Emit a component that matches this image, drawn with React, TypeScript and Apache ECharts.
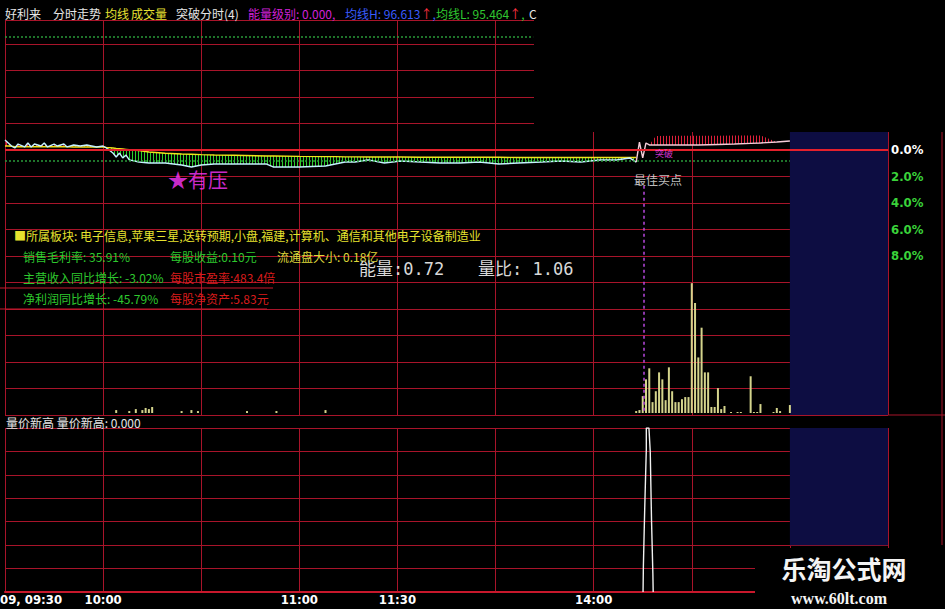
import React, { useEffect, useRef } from 'react';
import * as echarts from 'echarts';

// ---------- data ----------
// x: minutes since 09:30 (0..240 trading, 240..270 blank extension), y: % change
const priceMinutes = [0,1,2,3,4,6,7,8,9,11,12,13,15,16,18,19,21,23,25,28,30,31,33,34,35,36,37,38,41,44,49,54,57,60,64,70,80,82,90,98,101,104,107,111,116,121,127,133,139,145,151,157,164,170,176,182,187,191,193];
const pricePct = [0.75,0.53,0.30,0.15,0.45,0.23,0.53,0.23,0.45,0.30,0.53,0.23,0.45,0.30,0.45,0.23,0.38,0.30,0.38,0.23,0.30,0.15,-0.23,-0.53,-0.23,-0.60,-0.38,-0.75,-0.91,-0.98,-0.98,-1.13,-1.28,-1.13,-1.06,-1.06,-1.06,-1.28,-1.28,-1.21,-1.06,-0.91,-0.91,-0.75,-0.98,-0.83,-0.91,-0.98,-0.98,-0.91,-1.06,-0.98,-0.91,-0.83,-0.91,-0.75,-0.75,-0.60,-0.91];
const avgPct = [0.30,0.30,0.28,0.25,0.25,0.25,0.25,0.25,0.25,0.25,0.25,0.25,0.25,0.25,0.25,0.25,0.23,0.23,0.23,0.23,0.23,0.20,0.15,0.12,0.10,0.08,0.05,0.02,-0.05,-0.15,-0.25,-0.30,-0.32,-0.35,-0.38,-0.40,-0.45,-0.45,-0.48,-0.50,-0.50,-0.52,-0.52,-0.53,-0.53,-0.53,-0.55,-0.55,-0.55,-0.55,-0.55,-0.57,-0.57,-0.57,-0.57,-0.57,-0.57,-0.57,-0.57];

const breakMinutes = [193,194,195,196,197,199,205,212,218,223,228,231,236,240];
const breakPct = [-0.91,0.60,-0.60,0.53,0.38,0.38,0.38,0.38,0.42,0.45,0.50,0.53,0.60,0.68];
const breakHighPct = [-0.91,0.60,-0.60,0.53,0.38,1.05,1.08,1.08,1.08,1.10,1.10,1.10,0.60,0.68];

const volMinutes = [34,38,40,42,43,44,45,54,57,59,74,83,98,193,194,195,196,197,198,199,200,201,202,203,204,205,206,207,208,209,210,211,212,213,214,215,216,217,218,219,220,222,224,225,228,229,230,231,235,236,237,240];
const volValues = [180,120,240,180,310,240,370,120,180,120,120,120,180,120,180,1040,2070,2750,670,1340,2500,2070,790,2810,1340,670,670,850,980,980,7990,6770,3420,5250,2500,2500,370,370,1530,240,430,60,60,60,2260,60,60,550,60,310,120,490];

const signalMinutes = [195.1,195.2,195.6,196.1,196.1,196.9,197.3,197.7,198.1,198.2];
const signalValues = [0,1.1,3.5,6.1,7,7,6,3,0.8,0];

const noteMinutes = [59, 199.7, 201.5];
const notePct = [-2.2, -2.26, -0.3];
const noteTexts = ['★有压', '最佳买点', '突破'];
const noteColors = ['#ff36ff', '#f0f0f0', '#ff40ff'];
const noteSizes = [20, 12, 9];

const pctTicks = [0, -2, -4, -6, -8];
const timeTickMinutes = [30, 90, 120, 180];
const timeTickLabels = ['10:00', '11:00', '11:30', '14:00'];
const firstTimeLabel = '09, 09:30';

const energyLevel = '0.000';
const maH = '96.613';
const maL = '95.464';
const energy = '0.72';
const volRatio = '1.06';
const signalNow = '0.000';

const GRID = '#a8142a';
const NARROW = '"Liberation Sans Narrow", "DejaVu Sans Condensed", Arial, sans-serif';
const CJK = '"Noto Sans CJK SC", "Noto Sans", sans-serif';
const MONO = '"DejaVu Sans Mono", "Noto Sans CJK SC", monospace';

function stripe(color: string, w: number) {
  const c = document.createElement('canvas');
  c.width = w;
  c.height = 4;
  const g = c.getContext('2d')!;
  g.fillStyle = color;
  g.fillRect(0, 0, 1, 4);
  return c;
}

function txt(text: string, x: number, y: number, color: string, size = 12, family = CJK) {
  return {
    type: 'text',
    x,
    y,
    z: 5,
    style: { text, fill: color, font: `${size}px ${family}`, verticalAlign: 'middle' },
  };
}

function band(xs: number[], upper: number[], lower: number[], pattern: any) {
  return {
    type: 'custom',
    xAxisIndex: 0,
    yAxisIndex: 0,
    z: 2,
    silent: true,
    data: [[xs[0], lower[0]]],
    renderItem: (_p: any, api: any) => {
      const pts: number[][] = [];
      for (let i = 0; i < xs.length; i++) pts.push(api.coord([xs[i], upper[i]]));
      for (let i = xs.length - 1; i >= 0; i--) pts.push(api.coord([xs[i], lower[i]]));
      return { type: 'polygon', shape: { points: pts }, style: { fill: pattern, stroke: null } };
    },
  };
}

function buildOption() {
  const greenStripe = { image: stripe('#2ccf2c', 3), repeat: 'repeat' };
  const redStripe = { image: stripe('#e0203a', 3), repeat: 'repeat' };
  const pairs = (xs: number[], ys: number[]) => xs.map((m, i) => [m, ys[i]]);
  const lowEdge = pricePct.map((p, i) => Math.min(p, avgPct[i]));
  const highEdge = pricePct.map((p, i) => Math.max(p, avgPct[i]));
  const hidden = { lineStyle: { opacity: 0, width: 0 }, symbol: 'none' };

  return {
    animation: false,
    backgroundColor: '#000',
    grid: [
      { left: 5, right: 57, top: 20, height: 395 },
      { left: 5, right: 57, top: 283, height: 130 },
      { left: 5, right: 57, top: 428, height: 164 },
    ],
    xAxis: [
      { gridIndex: 0, type: 'value', min: 0, max: 270, interval: 30, axisLine: { show: false }, axisTick: { show: false }, axisLabel: { show: false }, splitLine: { show: true, lineStyle: { color: GRID, width: 1 } } },
      { gridIndex: 1, type: 'value', min: 0, max: 270, show: false },
      {
        gridIndex: 2, type: 'value', min: 0, max: 270, interval: 30,
        axisLine: { show: true, lineStyle: { color: '#c8182c', width: 2 } },
        axisTick: { show: false },
        axisLabel: {
          color: '#ffffff', fontSize: 13, fontWeight: 'bold', fontFamily: NARROW, margin: 1,
          formatter: (v: number) => { const k = timeTickMinutes.indexOf(v); return k >= 0 ? timeTickLabels[k] : ''; },
        },
        splitLine: { show: true, lineStyle: { color: GRID, width: 1 } },
      },
    ],
    yAxis: [
      {
        gridIndex: 0, type: 'value', min: -20, max: 9.811, interval: 2, position: 'right',
        axisLine: { show: false }, axisTick: { show: false },
        splitLine: { show: true, lineStyle: { color: GRID, width: 1 } },
        axisLabel: {
          margin: 3, align: 'left',
          formatter: (v: number) => pctTicks.indexOf(v) >= 0 ? `{${v === 0 ? 'w' : 'g'}|${Math.abs(v).toFixed(1)}%}` : '',
          rich: {
            w: { color: '#ffffff', fontSize: 13, fontWeight: 'bold', fontFamily: NARROW },
            g: { color: '#3ad23a', fontSize: 13, fontWeight: 'bold', fontFamily: NARROW },
          },
        },
      },
      { gridIndex: 1, type: 'value', min: 0, max: 8000, show: false },
      { gridIndex: 2, type: 'value', min: 0, max: 7, interval: 1, axisLine: { show: false }, axisTick: { show: false }, axisLabel: { show: false }, splitLine: { show: true, lineStyle: { color: GRID, width: 1 } } },
    ],
    series: [
      // blue extension zone (below grid lines)
      {
        type: 'line', xAxisIndex: 0, yAxisIndex: 0, z: -1, data: [[240, -20]], ...hidden,
        markArea: { silent: true, itemStyle: { color: '#0d0d42' }, data: [[{ coord: [240, 1.36] }, { coord: [270, -20] }]] },
      },
      {
        type: 'line', xAxisIndex: 2, yAxisIndex: 2, z: -1, data: [[240, 0]], ...hidden,
        markArea: { silent: true, itemStyle: { color: '#0d0d42' }, data: [[{ coord: [240, 7] }, { coord: [270, 2] }]] },
      },
      // striped bands between price and average
      band(priceMinutes, avgPct, lowEdge, greenStripe),
      band(priceMinutes, highEdge, avgPct, redStripe),
      band(breakMinutes, breakHighPct, breakPct, redStripe),
      // average line + reference lines
      {
        type: 'line', name: '均线', xAxisIndex: 0, yAxisIndex: 0, data: pairs(priceMinutes, avgPct), symbol: 'none',
        lineStyle: { color: '#f2e21c', width: 1.4 }, z: 3,
        markLine: {
          silent: true, symbol: 'none', label: { show: false },
          data: [
            [{ coord: [0, 0], lineStyle: { color: '#e4202c', width: 2, type: 'solid' } }, { coord: [270, 0] }],
            [{ coord: [0, 8.53], lineStyle: { color: '#2a9a3a', width: 1.5, type: [2, 2] } }, { coord: [161.5, 8.53] }],
            [{ coord: [0, -0.83], lineStyle: { color: '#2a9a3a', width: 1.5, type: [2, 2] } }, { coord: [240, -0.83] }],
          ],
        },
      },
      {
        type: 'line', name: '分时', xAxisIndex: 0, yAxisIndex: 0, data: pairs(priceMinutes, pricePct), symbol: 'none',
        lineStyle: { color: '#c4f2ff', width: 1.4 }, z: 4,
        markLine: {
          silent: true, symbol: 'none', label: { show: false },
          lineStyle: { color: '#b848e0', width: 1.5, type: [3, 3] },
          data: [[{ coord: [195.4, -2.7] }, { coord: [195.4, -19.9] }]],
        },
      },
      {
        type: 'line', name: '突破', xAxisIndex: 0, yAxisIndex: 0, data: pairs(breakMinutes, breakPct), symbol: 'none',
        lineStyle: { color: '#f4ccd8', width: 1.4 }, z: 4,
      },
      {
        type: 'scatter', xAxisIndex: 0, yAxisIndex: 0, symbolSize: 1, itemStyle: { color: 'rgba(0,0,0,0)' }, z: 6,
        label: { show: true, position: 'inside' },
        data: noteMinutes.map((m, i) => ({
          value: [m, notePct[i]],
          label: { formatter: noteTexts[i], color: noteColors[i], fontSize: noteSizes[i], fontFamily: CJK },
        })),
      },
      // volume
      {
        type: 'bar', xAxisIndex: 1, yAxisIndex: 1, barWidth: 2, data: pairs(volMinutes, volValues),
        itemStyle: { color: '#d4d48c' }, z: 3,
      },
      // lower indicator
      {
        type: 'line', xAxisIndex: 2, yAxisIndex: 2, data: pairs(signalMinutes, signalValues), symbol: 'none',
        lineStyle: { color: '#f0f0f0', width: 1.4 }, z: 4,
      },
    ],
    graphic: [
      { type: 'rect', z: 1, shape: { x: 534, y: 16, width: 411, height: 116 }, style: { fill: '#000' } },
      { type: 'line', z: 1, shape: { x1: 942, y1: 132, x2: 942, y2: 545 }, style: { stroke: GRID, lineWidth: 1 } },
      { type: 'line', z: 1, shape: { x1: 888, y1: 415, x2: 945, y2: 415 }, style: { stroke: GRID, lineWidth: 1 } },
      { type: 'line', z: 5, shape: { x1: 0, y1: 288, x2: 273, y2: 288 }, style: { stroke: '#c8182c', lineWidth: 1 } },
      { type: 'line', z: 5, shape: { x1: 0, y1: 309, x2: 267, y2: 309 }, style: { stroke: '#c8182c', lineWidth: 1 } },
      // header
      txt('好利来', 5, 13, '#e6e6e6'),
      txt('分时走势', 53, 13, '#e6e6e6'),
      txt('均线', 105, 13, '#e8e232'),
      txt('成交量', 131, 13, '#e8e232'),
      txt('突破分时(4)', 176, 13, '#e6e6e6'),
      txt(`能量级别: ${energyLevel},`, 248, 13, '#d020d8'),
      {
        type: 'text', x: 345, y: 13, z: 5,
        style: {
          text: `{b|均线H: ${maH}}{r|↑}{b|,}`, verticalAlign: 'middle',
          rich: { b: { fill: '#3a5cff', font: `12px ${CJK}` }, r: { fill: '#ff3040', font: `12px ${CJK}` } },
        },
      },
      {
        type: 'text', x: 436, y: 13, z: 5,
        style: {
          text: `{g|均线L: ${maL}}{r|↑}{g|,}`, verticalAlign: 'middle',
          rich: { g: { fill: '#30c830', font: `12px ${CJK}` }, r: { fill: '#ff3040', font: `12px ${CJK}` } },
        },
      },
      txt('C', 529, 13, '#e6e6e6'),
      // info block
      txt('■所属板块: 电子信息,苹果三星,送转预期,小盘,福建,计算机、通信和其他电子设备制造业', 14, 235, '#e6e22e'),
      txt('销售毛利率: 35.91%', 23, 256, '#2ec82e'),
      txt('每股收益:0.10元', 170, 256, '#2ec82e'),
      txt('流通盘大小: 0.18亿', 277, 256, '#dcd83a'),
      txt('主营收入同比增长: -3.02%', 23, 277, '#2ec82e'),
      txt('每股市盈率:483.4倍', 170, 277, '#d81c1c'),
      txt('净利润同比增长: -45.79%', 23, 298, '#2ec82e'),
      txt('每股净资产:5.83元', 170, 298, '#d81c1c'),
      txt(`能量:${energy}`, 359, 269, '#d8d8d8', 17, MONO),
      txt(`量比: ${volRatio}`, 478, 269, '#d8d8d8', 17, MONO),
      txt(`量价新高 量价新高: ${signalNow}`, 6, 422, '#e6e6e6'),
      {
        type: 'text', x: 0, y: 599, z: 5,
        style: { text: firstTimeLabel, fill: '#ffffff', font: `bold 13px ${NARROW}`, verticalAlign: 'middle' },
      },
      // watermark
      { type: 'rect', z: 100, shape: { x: 755, y: 548, width: 190, height: 61 }, style: { fill: '#000' } },
      {
        type: 'text', x: 844, y: 568, z: 101,
        style: { text: '乐淘公式网', fill: '#f4f4f4', font: `bold 25px ${CJK}`, align: 'center', verticalAlign: 'middle' },
      },
      {
        type: 'text', x: 839, y: 598, z: 101,
        style: { text: 'www.60lt.com', fill: '#f4f4f4', font: `bold 16px "Liberation Serif", "DejaVu Serif", serif`, align: 'center', verticalAlign: 'middle' },
      },
    ],
  };
}

export default function App() {
  const ref = useRef<HTMLDivElement>(null);
  useEffect(() => {
    document.body.style.margin = '0';
    document.body.style.background = '#000';
    const chart = echarts.init(ref.current!, null, { renderer: 'svg' });
    chart.setOption(buildOption() as any);
    return () => chart.dispose();
  }, []);
  return <div ref={ref} style={{ width: 945, height: 609, background: '#000' }} />;
}
